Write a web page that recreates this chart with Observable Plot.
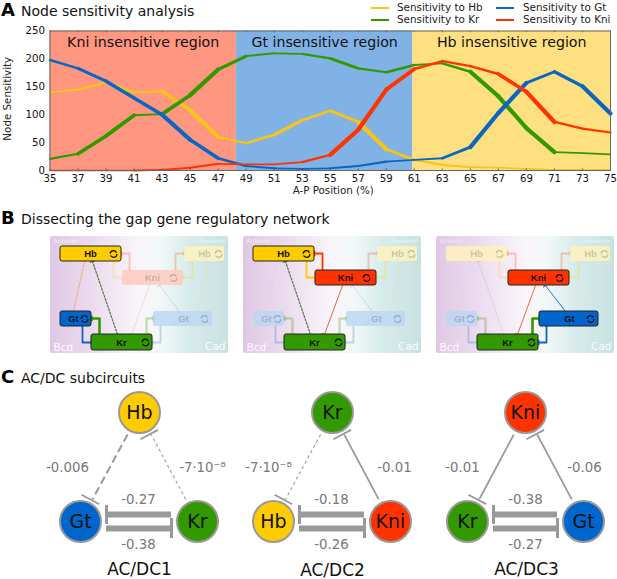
<!DOCTYPE html>
<html>
<head>
<meta charset="utf-8">
<script src="https://cdn.jsdelivr.net/npm/d3@7"></script>
<script src="https://cdn.jsdelivr.net/npm/@observablehq/plot@0.6"></script>
<style>
  html, body { margin: 0; padding: 0; background: #fff; }
  #page { position: relative; width: 617px; height: 579px; overflow: hidden; font-family: "DejaVu Sans", sans-serif; color: #111; }
  #page svg { display: block; background: transparent; }
  .head { position: absolute; left: 1px; white-space: nowrap; line-height: 1.1; }
  .head b { font-size: 18px; font-weight: 700; display: inline-block; width: 20px; color: #000; }
  .head span { font-size: 14px; }
  .lg { position: absolute; font-size: 10.4px; line-height: 1; white-space: nowrap; color: #222; }
  .sw { position: absolute; width: 18px; height: 1.6px; }
</style>
</head>
<body>
<div id="page"></div>
<script>
// ---------- Panel A data ----------
const positions = [35,37,39,41,43,45,47,49,51,53,55,57,59,61,63,65,67,69,71,73,75];
const hbValues  = [140,145,158,140,142,108,60,49,64,90,107,87,38,19,10,6,5,3,1,1,1];
const krValues  = [21,30,62,99,101,135,181,205,210,209,201,183,176,189,192,177,133,76,33,31,29];
const gtValues  = [198,183,160,130,100,55,22,8,4,3,4,8,16,19,22,42,103,157,177,151,102];
const kniValues = [0,0,0,0,1,5,12,11,11,15,28,73,145,182,196,187,173,141,87,75,68];
const seriesNames  = ["Hb","Kr","Gt","Kni"];
const seriesColors = ["#f5c518","#339900","#0a66c2","#ff3300"];
const seriesValues = [hbValues, krValues, gtValues, kniValues];
const regionNames  = ["Kni insensitive region","Gt insensitive region","Hb insensitive region"];
const regionStarts = [35, 48.3, 60.9];
const regionEnds   = [48.3, 60.9, 75];
const regionFills  = ["#ff9680","#80b2e6","#ffe080"];
const xTicks = positions;
const yTicks = [0,50,100,150,200,250];

// ---------- Panel B data (units: diagram units inside one panel) ----------
const panelOrigins = [50, 243, 436];
const panelTop = 236, panelW = 178, panelH = 117;
const boxes = [
  {id:"HbA", name:"Hb",  x1:10,  x2:71,  y1:10, y2:25,  fill:"#ffcc00", lx:40,  loop:63},
  {id:"HbP", name:"Hb",  x1:134, x2:174, y1:10, y2:25,  fill:"#ffcc00", lx:154, loop:168},
  {id:"Kni", name:"Kni", x1:72,  x2:133, y1:34, y2:49,  fill:"#ff3300", lx:102, loop:123},
  {id:"GtA", name:"Gt",  x1:10,  x2:41,  y1:75, y2:90,  fill:"#0066cc", lx:23,  loop:34},
  {id:"GtP", name:"Gt",  x1:103, x2:162, y1:75, y2:90,  fill:"#0066cc", lx:133, loop:154},
  {id:"Kr",  name:"Kr",  x1:41,  x2:102, y1:98, y2:114, fill:"#339900", lx:71,  loop:95}
];
const activeBoxes = [["HbA","GtA","Kr"],["HbA","Kni","Kr"],["Kni","GtP","Kr"]];
const edges = [
  {id:"hb-kni",  c:"#ffcc00", w:1.8, dash:false, pts:[[63,25],[63,41],[72,41]]},
  {id:"kni-hb",  c:"#ff3300", w:1.8, dash:false, pts:[[79,34],[79,17],[71,17]]},
  {id:"hbp-kni", c:"#ffcc00", w:1.8, dash:false, pts:[[142,25],[142,41],[133,41]]},
  {id:"kni-hbp", c:"#ff3300", w:1.8, dash:false, pts:[[125,34],[125,17],[134,17]]},
  {id:"hb-gt",   c:"#f5a56a", w:1,   dash:true,  pts:[[34,25],[23,75]]},
  {id:"kr-hb",   c:"#55764a", w:1.2, dash:true,  pts:[[67,98],[42,25]]},
  {id:"hbp-gt",  c:"#ffcc00", w:1,   dash:true,  pts:[[157,25],[147,75]]},
  {id:"gt-kr",   c:"#0a66c2", w:1.8, dash:false, pts:[[32,90],[32,106],[41,106]]},
  {id:"kr-gt",   c:"#339900", w:2.6, dash:false, pts:[[49,98],[49,82],[41,82]]},
  {id:"kr-gtp",  c:"#339900", w:2.6, dash:false, pts:[[96,98],[96,82],[103,82]]},
  {id:"gtp-kr",  c:"#0a66c2", w:1.8, dash:false, pts:[[110,90],[110,106],[102,106]]},
  {id:"kni-kr",  c:"#e8683c", w:1,   dash:false, pts:[[99,49],[81,98]]},
  {id:"gtp-kni", c:"#2277cc", w:1,   dash:false, pts:[[129,75],[109,49]]}
];
const activeEdges = [
  ["hb-gt","kr-hb","gt-kr","kr-gt"],
  ["hb-kni","kni-hb","kr-hb","kni-kr"],
  ["gtp-kni","kni-kr","kr-gtp","gtp-kr"]
];

// ---------- Panel C data ----------
const nodeNames = ["Hb","Gt","Kr","Kr","Hb","Kni","Kni","Kr","Gt"];
const nodeX = [139,80,197,332,273,390,525,467,583];
const nodeY = [412,521,521,412,521,521,412,521,521];
const nodeFill = {Hb:"#ffcc00", Gt:"#0066cc", Kr:"#339900", Kni:"#ff3300"};
// side edges: [node a, node b, width, dash, T-bar end is at b]
const sideEdges = [
  [1,0,2.0,"8,4",false],[2,0,1.1,"3,3",true],
  [4,3,1.1,"3,3",false],[5,3,1.8,null,true],
  [7,6,1.8,null,false],[8,6,1.8,null,true]
];
const bottomPairs = [[1,2],[4,5],[7,8]];
const edgeLabelText = ["-0.006","-7·10⁻⁸","-0.27","-0.38","-7·10⁻⁸","-0.01","-0.18","-0.26","-0.01","-0.06","-0.38","-0.27"];
const edgeLabelX = [67,202,138,138,268,394,331,331,462,584,525,525];
const edgeLabelY = [467,467,499,544,467,467,499,544,467,467,499,544];
const circuitNames = ["AC/DC1","AC/DC2","AC/DC3"];
const circuitX = [139,332,526];
const circuitY = [569,570,569];

// ---------- Panel A ----------
const segs = [];
seriesNames.forEach((name, s) => {
  seriesValues[s].forEach((v, i) => {
    if (i > 0) {
      const d = Math.abs(v - seriesValues[s][i-1]);
      segs.push({series:name, color:seriesColors[s], x1:positions[i-1], y1:seriesValues[s][i-1], x2:positions[i], y2:v, w:Math.min(4.2, 1.7 + d/17)});
    }
  });
});
const regions = regionNames.map((n,i)=>({name:n, x1:regionStarts[i], x2:regionEnds[i], fill:regionFills[i], mid:(regionStarts[i]+regionEnds[i])/2}));

const plotA = Plot.plot({
  width:617, height:205, marginLeft:49.5, marginRight:7, marginTop:30.5, marginBottom:35,
  style:{fontFamily:'"DejaVu Sans", sans-serif', background:"transparent"},
  x:{domain:[35,75], ticks:xTicks, label:null, tickSize:0, tickPadding:5},
  y:{domain:[0,250], ticks:yTicks, label:null, tickSize:0, tickPadding:5},
  marks:[
    Plot.rect(regions,{x1:"x1",x2:"x2",y1:0,y2:250,fill:"fill"}),
    Plot.text(regions,{x:"mid",y:230,text:"name",fontSize:14.2,fill:"#111"}),
    Plot.link(segs,{x1:"x1",y1:"y1",x2:"x2",y2:"y2",stroke:"color",strokeWidth:"w",strokeLinecap:"round"}),
    Plot.ruleX(xTicks,{y1:250,y2:247,stroke:"#444",strokeWidth:0.7}),
    Plot.ruleX(xTicks,{y1:0,y2:3,stroke:"#444",strokeWidth:0.7}),
    Plot.frame({stroke:"#666",strokeWidth:1}),
    Plot.axisX({ticks:xTicks,tickSize:0,fontSize:10.2,tickPadding:4,fill:"#111",label:null,tickFormat:d=>d}),
    Plot.axisY({ticks:yTicks,tickSize:0,fontSize:10.2,tickPadding:5,fill:"#111",label:null}),
    Plot.text(["A-P Position (%)"],{frameAnchor:"bottom",dy:23,dx:3,fontSize:10.3,fill:"#222",text:d=>d,textAnchor:"middle"}),
    Plot.text(["Node Sensitivity"],{frameAnchor:"left",dx:-42.5,dy:-2,rotate:-90,fontSize:10.3,fill:"#222",text:d=>d,textAnchor:"middle"})
  ]
});

// ---------- Panels B + C ----------
const top0 = 205;
const panelRects = panelOrigins.map(o=>({x1:o,x2:o+panelW,y1:panelTop,y2:panelTop+panelH}));
const boxRows=[], edgeRows=[], barRows=[], tagRows=[];
panelOrigins.forEach((o,p)=>{
  boxes.forEach(b=>{
    const on = activeBoxes[p].includes(b.id);
    boxRows.push({...b, x1:o+b.x1, x2:o+b.x2, y1:panelTop+b.y1, y2:panelTop+b.y2,
      tx:o+b.lx, ty:panelTop+(b.y1+b.y2)/2, lxx:o+b.loop, on, op:on?1:0.22});
  });
  edges.forEach(e=>{
    const on = activeEdges[p].includes(e.id);
    const op = on?1:(e.dash?0.14:(e.w<1.5?0.2:0.25));
    e.pts.forEach(q=>edgeRows.push({key:p+e.id, x:o+q[0], y:panelTop+q[1], c:e.c, w:e.w, dash:e.dash, op}));
    const a=e.pts[e.pts.length-2], b=e.pts[e.pts.length-1];
    const L=Math.hypot(b[0]-a[0],b[1]-a[1]), nx=-(b[1]-a[1])/L, ny=(b[0]-a[0])/L, h=2.8;
    barRows.push({x1:o+b[0]+nx*h,y1:panelTop+b[1]+ny*h,x2:o+b[0]-nx*h,y2:panelTop+b[1]-ny*h,c:e.c,w:Math.max(e.w,1.2),op});
  });
  tagRows.push({t:"Anterior",x:o+3,y:panelTop+4.5,s:6,side:"l",o:0.6,w:400});
  tagRows.push({t:"Posterior",x:o+panelW-3,y:panelTop+4.5,s:6,side:"r",o:0.6,w:400});
  tagRows.push({t:"Bcd",x:o+3,y:panelTop+111,s:10.5,side:"l",o:0.95,w:700});
  tagRows.push({t:"Cad",x:o+panelW-3,y:panelTop+110,s:10.5,side:"r",o:0.95,w:700});
});

const nodeRows = nodeNames.map((n,i)=>({n,x:nodeX[i],y:nodeY[i],f:nodeFill[n]}));
const sideLinks=[], sideBars=[];
sideEdges.forEach(([a,b,w,dash,tAtB])=>{
  const A=nodeRows[a],B=nodeRows[b];
  const L=Math.hypot(B.x-A.x,B.y-A.y), ux=(B.x-A.x)/L, uy=(B.y-A.y)/L;
  const pa={x:A.x+ux*25,y:A.y+uy*25}, pb={x:B.x-ux*25,y:B.y-uy*25};
  const s=tAtB?pa:pb, e=tAtB?pb:pa;
  sideLinks.push({x1:s.x,y1:s.y,x2:e.x,y2:e.y,w,dash});
  // the T bars in the figure sit slightly left of the line's end
  sideBars.push({x1:e.x-2-uy*10,y1:e.y+ux*10,x2:e.x-2+uy*10,y2:e.y-ux*10});
});
const thickBars=[], capBars=[];
bottomPairs.forEach(([l,r])=>{
  const xl=nodeRows[l].x+26, xr=nodeRows[r].x-26;
  thickBars.push({x1:xl,x2:xr,y:514},{x1:xl,x2:xr,y:528});
  capBars.push({x:xl,y1:505,y2:524},{x:xr,y1:518,y2:538});
});
const labels = edgeLabelText.map((t,i)=>({t,x:edgeLabelX[i],y:edgeLabelY[i]}));
const circuits = circuitNames.map((t,i)=>({t,x:circuitX[i],y:circuitY[i]}));

const gradient = () => {
  const svgNS="http://www.w3.org/2000/svg";
  const defs=document.createElementNS(svgNS,"defs");
  defs.innerHTML='<linearGradient id="bg" x1="0" x2="1" y1="0" y2="0">'+
    '<stop offset="0" stop-color="#e0c8e4"/><stop offset="0.25" stop-color="#ecdcef"/>'+
    '<stop offset="0.5" stop-color="#f9f5fa"/><stop offset="0.62" stop-color="#f2f8f8"/>'+
    '<stop offset="0.78" stop-color="#d8ebeb"/><stop offset="1" stop-color="#c8e2e1"/></linearGradient>';
  return defs;
};
const narrow = '"Liberation Sans Narrow","Liberation Sans",sans-serif';

const plotBC = Plot.plot({
  width:617, height:579-top0, margin:0,
  style:{fontFamily:'"DejaVu Sans", sans-serif', background:"transparent"},
  x:{domain:[0,617], range:[0,617], axis:null},
  y:{domain:[top0,579], range:[0,579-top0], axis:null},
  marks:[
    gradient,
    Plot.rect(panelRects,{x1:"x1",x2:"x2",y1:"y1",y2:"y2",fill:"url(#bg)",rx:2}),
    Plot.text(tagRows.filter(d=>d.side==="l"),{x:"x",y:"y",text:"t",fontSize:"s",textAnchor:"start",fill:"#fff",fillOpacity:"o",fontWeight:d=>d.w}),
    Plot.text(tagRows.filter(d=>d.side==="r"),{x:"x",y:"y",text:"t",fontSize:"s",textAnchor:"end",fill:"#fff",fillOpacity:"o",fontWeight:d=>d.w}),
    Plot.line(edgeRows.filter(d=>!d.dash),{x:"x",y:"y",z:"key",stroke:"c",strokeWidth:"w",strokeOpacity:"op",curve:"linear"}),
    Plot.line(edgeRows.filter(d=>d.dash),{x:"x",y:"y",z:"key",stroke:"c",strokeWidth:"w",strokeOpacity:"op",strokeDasharray:"2,1.6",curve:"linear"}),
    Plot.link(barRows,{x1:"x1",y1:"y1",x2:"x2",y2:"y2",stroke:"c",strokeWidth:"w",strokeOpacity:"op"}),
    Plot.rect(boxRows.filter(d=>!d.on),{x1:"x1",x2:"x2",y1:"y1",y2:"y2",fill:"#fff",fillOpacity:0.8,rx:2}),
    Plot.rect(boxRows,{x1:"x1",x2:"x2",y1:"y1",y2:"y2",fill:"fill",fillOpacity:"op",stroke:"#222",strokeOpacity:d=>d.on?1:0,strokeWidth:1,rx:2}),
    Plot.dot(boxRows,{x:"lxx",y:"ty",r:3.3,stroke:"#111",strokeWidth:1.3,strokeOpacity:"op",strokeDasharray:"8.5,1.8",fill:"none"}),
    Plot.text(boxRows,{x:"tx",y:"ty",text:"name",fontSize:9.5,fontWeight:700,fontFamily:narrow,fill:"#111",fillOpacity:"op"}),

    Plot.link(sideLinks.filter(d=>d.dash==="8,4"),{x1:"x1",y1:"y1",x2:"x2",y2:"y2",stroke:"#999",strokeWidth:"w",strokeDasharray:"8,4"}),
    Plot.link(sideLinks.filter(d=>d.dash==="3,3"),{x1:"x1",y1:"y1",x2:"x2",y2:"y2",stroke:"#999",strokeWidth:"w",strokeDasharray:"3,3"}),
    Plot.link(sideLinks.filter(d=>!d.dash),{x1:"x1",y1:"y1",x2:"x2",y2:"y2",stroke:"#999",strokeWidth:"w"}),
    Plot.link(sideBars,{x1:"x1",y1:"y1",x2:"x2",y2:"y2",stroke:"#999",strokeWidth:1.8}),
    Plot.ruleY(thickBars,{x1:"x1",x2:"x2",y:"y",stroke:"#999",strokeWidth:6}),
    Plot.ruleX(capBars,{x:"x",y1:"y1",y2:"y2",stroke:"#999",strokeWidth:3}),
    Plot.dot(nodeRows,{x:"x",y:"y",r:20.5,fill:"f",stroke:"#999",strokeWidth:2}),
    Plot.text(nodeRows,{x:"x",y:"y",text:"n",fontSize:19,fill:"#111"}),
    Plot.text(labels,{x:"x",y:"y",text:"t",fontSize:13.3,fill:"#777"}),
    Plot.text(circuits,{x:"x",y:"y",text:"t",fontSize:17,fill:"#111"})
  ]
});

// ---------- Page ----------
const page = document.getElementById("page");
page.append(plotA, plotBC);
const heads = [["A","Node sensitivity analysis",0],["B","Dissecting the gap gene regulatory network",208],["C","AC/DC subcircuits",367]];
heads.forEach(([l,t,y])=>{
  const d=document.createElement("div"); d.className="head"; d.style.top=y+"px";
  const b=document.createElement("b"); b.textContent=l;
  const s=document.createElement("span"); s.textContent=t;
  d.append(b,s); page.append(d);
});
const legendX=[371,496], legendY=[7,19], legendTextX=[397,523];
[[0,0,0],[1,1,0],[0,2,1],[1,3,1]].forEach(([row,s,col])=>{
  const sw=document.createElement("div"); sw.className="sw";
  sw.style.left=legendX[col]+"px"; sw.style.top=legendY[row]+"px"; sw.style.background=seriesColors[s];
  const t=document.createElement("div"); t.className="lg"; t.textContent="Sensitivity to "+seriesNames[s];
  t.style.left=legendTextX[col]+"px"; t.style.top=legendY[row]-5+"px";
  page.append(sw,t);
});
</script>
</body>
</html>
